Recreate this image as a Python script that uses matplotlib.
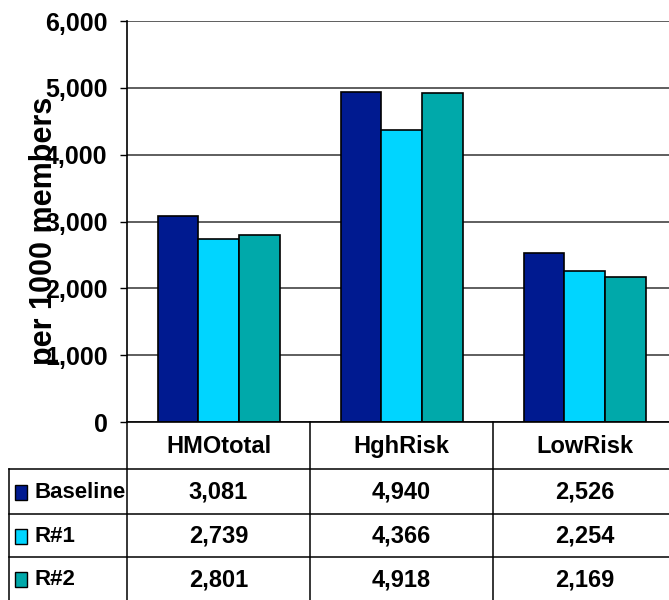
import numpy as np
import matplotlib.pyplot as plt
from matplotlib.patches import Rectangle

# Utilization per 1000 members by risk group
categories = ["HMOtotal", "HghRisk", "LowRisk"]
series = ["Baseline", "R#1", "R#2"]
baseline = [3081, 4940, 2526]
r1 = [2739, 4366, 2254]
r2 = [2801, 4918, 2169]
values = [baseline, r1, r2]
colors = ["#001A90", "#00D5FF", "#00A9AA"]

plt.rcParams['font.family'] = ['Liberation Sans', 'DejaVu Sans']
plt.rcParams['font.weight'] = 'bold'

W, H = 669, 600
fig = plt.figure(figsize=(W / 100, H / 100), dpi=100)

# Plot area in pixels (left, top, right, bottom); right edge runs past the figure
px_left, px_top, px_right, px_bottom = 127, 21, 676, 422
ax = fig.add_axes([px_left / W, 1 - px_bottom / H,
                   (px_right - px_left) / W, (px_bottom - px_top) / H])

n = len(categories)
bar_w = 2 / 9
x = np.arange(n) + 0.5
for j, (name, vals, c) in enumerate(zip(series, values, colors)):
    ax.bar(x + (j - 1) * bar_w, vals, width=bar_w, color=c,
           edgecolor='black', linewidth=1.2, zorder=3)

ax.set_xlim(0, n)
ax.set_ylim(0, 6000)
ax.set_yticks(np.arange(0, 6001, 1000))
ax.set_yticklabels([f"{v:,}" for v in range(0, 6001, 1000)])
ax.tick_params(axis='y', direction='out', length=5, width=1, pad=9,
               labelsize=18)
ax.set_xticks([])
ax.grid(axis='y', color='#333333', linewidth=1.1, zorder=0)
for s in ['top', 'right', 'bottom']:
    ax.spines[s].set_visible(False)
ax.spines['left'].set_linewidth(1.2)
ax.axhline(0, color='black', linewidth=1.2, zorder=4, clip_on=False)

ax.set_ylabel("per 1000 members", fontsize=22, fontweight='bold')
ax.yaxis.set_label_coords(-0.124, 0.476)

# Data table below the plot, sharing the category scale
tab_h = H - px_bottom
tab = fig.add_axes([px_left / W, 0, (px_right - px_left) / W, tab_h / H])
tab.set_xlim(0, n)
tab.set_ylim(tab_h, 0)
tab.axis('off')

row_edges = [0, 47, 92, 135, 178]
unit = (px_right - px_left) / n
left_edge = (9 - px_left) / unit
lc = 'black'

# vertical lines
for k in range(n + 1):
    tab.plot([k, k], [0, tab_h], color=lc, lw=1.1, clip_on=False)
tab.plot([left_edge, left_edge], [row_edges[1], tab_h], color=lc, lw=1.1,
         clip_on=False)
# horizontal lines
for r in row_edges[1:4]:
    tab.plot([left_edge, n], [r, r], color=lc, lw=1.1, clip_on=False)

# header row
for k, cat in enumerate(categories):
    tab.text(k + 0.5, (row_edges[0] + row_edges[1]) / 2 + 1, cat,
             ha='center', va='center', fontsize=17, fontweight='bold')

# series rows with legend keys
for j, (name, vals, c) in enumerate(zip(series, values, colors)):
    yc = (row_edges[j + 1] + row_edges[j + 2]) / 2 + 1
    tab.add_patch(Rectangle(((15 - px_left) / unit, yc - 7.5), 12 / unit, 15,
                            facecolor=c, edgecolor='black', lw=1,
                            clip_on=False))
    tab.text((34 - px_left) / unit, yc, name, ha='left', va='center',
             fontsize=16, fontweight='bold', clip_on=False)
    for k, v in enumerate(vals):
        tab.text(k + 0.5, yc, f"{v:,}", ha='center', va='center',
                 fontsize=17, fontweight='bold')

fig.savefig("out.png", dpi=100)
